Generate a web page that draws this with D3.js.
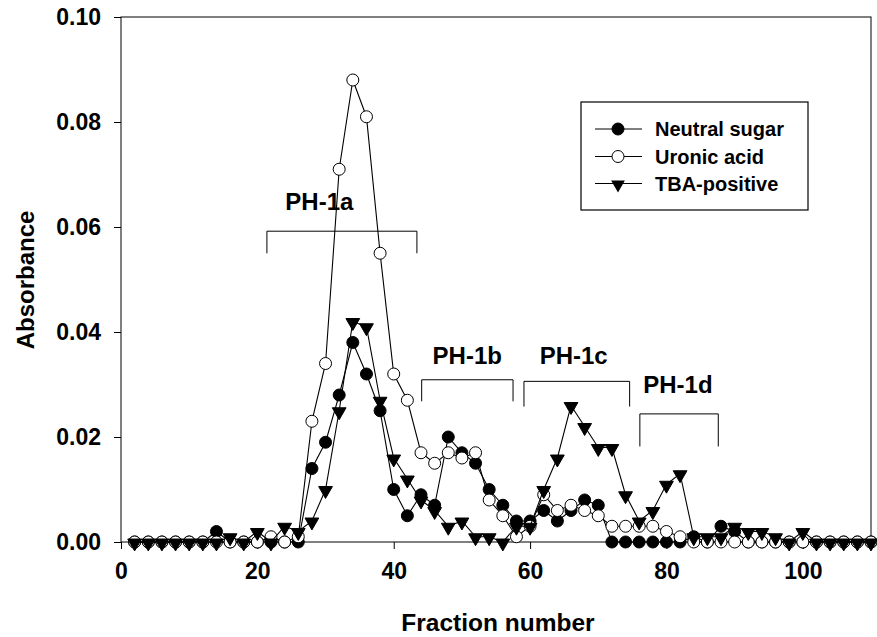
<!DOCTYPE html>
<html>
<head>
<meta charset="utf-8">
<script src="https://cdn.jsdelivr.net/npm/d3@7"></script>
<style>
  html, body { margin: 0; padding: 0; background: #fff; }
  svg { display: block; font-family: "Liberation Sans", Arial, sans-serif; font-weight: bold; }
</style>
</head>
<body>
<svg id="chart" width="877" height="637"></svg>
<script>
// ---- data ----
const fractions = [2,4,6,8,10,12,14,16,18,20,22,24,26,28,30,32,34,36,38,40,42,44,46,48,50,52,54,56,58,60,
  62,64,66,68,70,72,74,76,78,80,82,84,86,88,90,92,94,96,98,100,102,104,106,108,110];

const neutralSugar = [0,0,0,0,0,0,0.002,0,0,0,0,0,0,0.014,0.019,0.028,0.038,0.032,0.025,0.010,
  0.005,0.009,0.007,0.020,0.017,0.015,0.010,0.007,0.004,0.004,0.006,0.004,0.006,0.008,0.007,
  0,0,0,0,0,0,0.001,0,0.003,0.002,0,0,0,0,0,0,0,0,0,0];

const uronicAcid = [0,0,0,0,0,0,0,0,0,0,0.001,0,0.001,0.023,0.034,0.071,0.088,0.081,0.055,0.032,
  0.027,0.017,0.015,0.017,0.016,0.017,0.008,0.005,0.001,0.003,0.009,0.006,0.007,0.006,0.005,
  0.003,0.003,0.003,0.003,0.002,0.001,0,0,0,0,0,0,0,0,0,0,0,0,0,0];

const tbaPositive = [0,0,0,0,0,0,0,0.001,0,0.002,0,0.003,0.002,0.004,0.010,0.025,0.042,0.041,0.027,0.016,
  0.012,0.008,0.006,0.003,0.004,0.001,0.001,0.000,0.003,0.003,0.010,0.016,0.026,0.022,0.018,
  0.018,0.009,0.004,0.006,0.011,0.013,0.001,0.001,0.001,0.003,0.002,0.002,0.001,0,0.002,0,0,0,0,0];

const seriesNames = ["Neutral sugar", "Uronic acid", "TBA-positive"];
const xTicks = [0, 20, 40, 60, 80, 100];
const yTicks = [0, 0.02, 0.04, 0.06, 0.08, 0.10];

// fraction groups: bracket span and bracket heights (absorbance)
const groupNames = ["PH-1a", "PH-1b", "PH-1c", "PH-1d"];
const groupStart = [21.4, 44.1, 59.1, 76.1];
const groupEnd   = [43.4, 57.5, 74.6, 87.6];
const groupTop   = [0.0592, 0.0309, 0.0306, 0.0244];
const groupFoot  = [0.0550, 0.0268, 0.0258, 0.0182];
const labelX     = [24.1, 45.7, 61.4, 76.6];
const labelY     = [0.0633, 0.0339, 0.0339, 0.0283];

// ---- chart ----
const svg = d3.select("#chart");
const L = 121, R = 871, T = 17, B = 542;
const x = d3.scaleLinear().domain([0, 110]).range([L, R]);
const y = d3.scaleLinear().domain([0, 0.10]).range([B, T]);

// frame
svg.append("rect").attr("x", L).attr("y", T).attr("width", R - L).attr("height", B - T)
  .attr("fill", "none").attr("stroke", "#000").attr("stroke-width", 1);

// axes
const xAxis = svg.append("g").attr("transform", `translate(0,${B})`)
  .call(d3.axisBottom(x).tickValues(xTicks).tickSize(7).tickPadding(14).tickFormat(d3.format("d")));
const yAxis = svg.append("g").attr("transform", `translate(${L},0)`)
  .call(d3.axisLeft(y).tickValues(yTicks).tickSize(7).tickPadding(13).tickFormat(d3.format(".2f")));
[xAxis, yAxis].forEach(g => {
  g.select(".domain").remove();
  g.selectAll(".tick line").attr("stroke", "#000");
  g.selectAll(".tick text").attr("fill", "#000").style("font-size", "23px")
    .style("font-family", "'Liberation Sans', Arial, sans-serif").style("font-weight", "bold");
});

// axis titles
svg.append("text").attr("x", (L + R) / 2 + 2).attr("y", 631).attr("text-anchor", "middle")
  .style("font-size", "24.5px").text("Fraction number");
svg.append("text").attr("transform", `translate(34,${280}) rotate(-90)`).attr("text-anchor", "middle")
  .style("font-size", "24px").text("Absorbance");

// series
const tri = d3.symbol().type(d3.symbolTriangle).size(82)();
function drawSeries(values, kind) {
  const pts = fractions.map((f, i) => [f, values[i]]);
  svg.append("path").datum(pts)
    .attr("d", d3.line().x(d => x(d[0])).y(d => y(d[1])))
    .attr("fill", "none").attr("stroke", "#000").attr("stroke-width", 1.1);
  const g = svg.append("g");
  if (kind === "tri") {
    g.selectAll("path").data(pts).enter().append("path")
      .attr("d", tri)
      .attr("transform", d => `translate(${x(d[0])},${y(d[1]) + 1}) rotate(180)`)
      .attr("fill", "#000").attr("stroke", "#000").attr("stroke-width", 1);
  } else {
    g.selectAll("circle").data(pts).enter().append("circle")
      .attr("cx", d => x(d[0])).attr("cy", d => y(d[1])).attr("r", 6)
      .attr("fill", kind === "filled" ? "#000" : "#fff").attr("stroke", "#000").attr("stroke-width", 1);
  }
}
drawSeries(neutralSugar, "filled");
drawSeries(uronicAcid, "open");
drawSeries(tbaPositive, "tri");

// brackets and labels
groupNames.forEach((name, i) => {
  const x0 = x(groupStart[i]), x1 = x(groupEnd[i]), yt = y(groupTop[i]), yb = y(groupFoot[i]);
  svg.append("path").attr("d", `M${x0},${yb}V${yt}H${x1}V${yb}`)
    .attr("fill", "none").attr("stroke", "#000").attr("stroke-width", 1);
  svg.append("text").attr("x", x(labelX[i])).attr("y", y(labelY[i]))
    .style("font-size", "24px").text(name);
});

// legend
const lg = svg.append("g");
lg.append("rect").attr("x", 581).attr("y", 102).attr("width", 227).attr("height", 108)
  .attr("fill", "#fff").attr("stroke", "#000").attr("stroke-width", 1.2);
const rows = [129, 156.5, 183.5];
const kinds = ["filled", "open", "tri"];
seriesNames.forEach((name, i) => {
  const cy = rows[i];
  lg.append("line").attr("x1", 595).attr("x2", 642).attr("y1", cy).attr("y2", cy)
    .attr("stroke", "#000").attr("stroke-width", 1.1);
  if (kinds[i] === "tri") {
    lg.append("path").attr("d", tri).attr("transform", `translate(618,${cy + 1}) rotate(180)`)
      .attr("fill", "#000");
  } else {
    lg.append("circle").attr("cx", 618).attr("cy", cy).attr("r", 6)
      .attr("fill", kinds[i] === "filled" ? "#000" : "#fff").attr("stroke", "#000");
  }
  lg.append("text").attr("x", 655).attr("y", cy + 7).style("font-size", "20px").text(name);
});
</script>
</body>
</html>
